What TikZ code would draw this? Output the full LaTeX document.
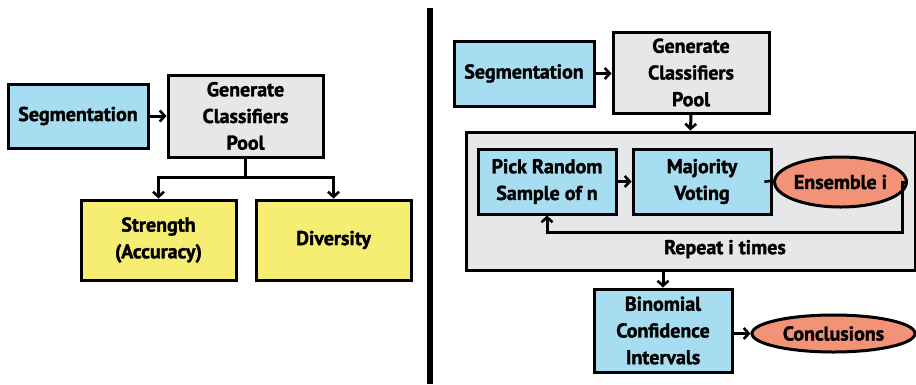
\documentclass[tikz,border=0pt]{standalone}
\usepackage{fontspec}
\setmainfont{PT Sans}[BoldFeatures={FakeBold=1.6}]
\usetikzlibrary{shapes.geometric,arrows.meta}
\definecolor{cblue}{RGB}{166,221,240}
\definecolor{cgray}{RGB}{230,231,232}
\definecolor{cyellow}{RGB}{245,238,114}
\definecolor{corange}{RGB}{242,146,118}
\tikzset{
  box/.style={draw=black, line width=3pt, rectangle, align=center, inner sep=0pt,
    font=\fontsize{20}{26.7}\selectfont\bfseries},
  bluebox/.style={box, fill=cblue},
  graybox/.style={box, fill=cgray},
  yelbox/.style={box, fill=cyellow},
  oval/.style={box, ellipse, fill=corange},
  arr/.style={line width=3pt, -{Straight Barb[length=5pt,width=11pt,line width=2.6pt]}},
  ln/.style={line width=3pt},
  lbl/.style={font=\fontsize{20}{26.7}\selectfont\bfseries, inner sep=0pt}
}
\begin{document}
\begin{tikzpicture}[x=1pt,y=-1pt]
\useasboundingbox (0,0) rectangle (916,384);
% divider
\draw[line width=6pt] (430,8) -- (430,384);
% left
\node[bluebox, minimum width=140pt, minimum height=64pt] (segL) at (78,116) {Segmentation};
\node[graybox, minimum width=155pt, minimum height=82pt] (genL) at (245.5,116) {Generate\\Classifiers\\Pool};
\node[yelbox, minimum width=155pt, minimum height=80pt] (strL) at (158.5,240) {Strength\\(Accuracy)};
\node[yelbox, minimum width=155pt, minimum height=80pt] (divL) at (333.5,240) {Diversity};
\draw[arr] (segL.east) -- (genL.west);
\coordinate (jL) at (245.5,177);
\draw[ln] (genL.south) -- (jL);
\draw[arr] (jL) -| (strL.north);
\draw[arr] (jL) -| (divL.north);
% right
\node[bluebox, minimum width=140pt, minimum height=65pt] (segR) at (524,73.5) {Segmentation};
\node[graybox, minimum width=156pt, minimum height=81pt] (genR) at (691,72.5) {Generate\\Classifiers\\Pool};
\node[graybox, minimum width=449pt, minimum height=138pt] (big) at (690.5,201) {};
\node[bluebox, minimum width=138pt, minimum height=65pt] (pick) at (547,181.5) {Pick Random\\Sample of n};
\node[bluebox, minimum width=138pt, minimum height=65pt] (maj) at (702,181.5) {Majority\\Voting};
\node[oval, minimum width=105pt, minimum height=50pt] (ens) at (840.5,182) {Ensemble i};
\node[lbl] (rep) at (725,249) {Repeat i times};
\node[bluebox, minimum width=138pt, minimum height=83pt] (bin) at (663,330.5) {Binomial\\Confidence\\Intervals};
\node[oval, minimum width=163pt, minimum height=37pt] (conc) at (833.5,333.5) {Conclusions};
\draw[arr] (segR.east) -- (segR.east -| genR.west);
\draw[arr] (genR.south) -- (big.north);
\draw[arr] (pick.east) -- (maj.west);
\draw[arr] (maj.east) -- (ens.west);
\coordinate (lp) at (902,232);
\draw[arr] (ens.east) -| (lp) -| (pick.south);
\draw[arr] (big.south -| bin.north) -- (bin.north);
\draw[arr] (bin.east |- conc.west) -- (conc.west);
\end{tikzpicture}
\end{document}
